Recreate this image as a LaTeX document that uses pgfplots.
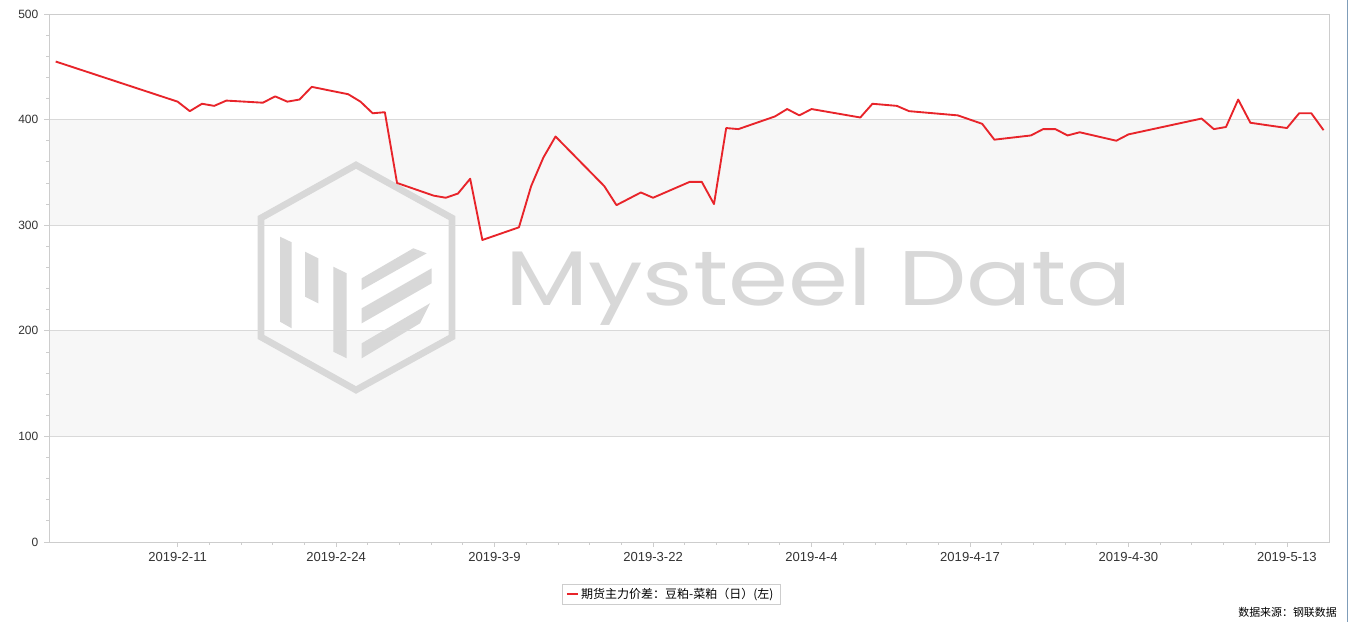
\documentclass[border=0pt]{standalone}
\usepackage{fontspec}
\setmainfont{Liberation Sans}
\newfontfamily\cjk{Noto Sans CJK SC}
\newfontfamily\wm{Poppins}
\usepackage{pgfplots}
\pgfplotsset{compat=1.18}
\definecolor{band}{HTML}{F7F7F7}
\definecolor{gridc}{HTML}{D9D9D9}
\definecolor{axc}{HTML}{CDCDCD}
\definecolor{wmc}{HTML}{D8D8D8}
\definecolor{lred}{HTML}{E8242A}
\definecolor{tickc}{HTML}{333333}
\definecolor{framec}{HTML}{7F9DB9}

\pgfplotstableread{
day value
0 455
10 417
11 408
12 415
13 413
14 418
17 416
18 422
19 417
20 419
21 431
24 424
25 417
26 406
27 407
28 340
31 328
32 326
33 330
34 344
35 286
38 298
39 337
40 364
41 384
45 337
46 319
48 331
49 326
52 341
53 341
54 320
55 392
56 391
59 403
60 410
61 404
62 410
66 402
67 415
69 413
70 408
74 404
76 396
77 381
80 385
81 391
82 391
83 385
84 388
87 380
88 386
94 401
95 391
96 393
97 419
98 397
101 392
102 406
103 406
104 390
}\spread

\begin{document}
\begin{tikzpicture}
\path[use as bounding box] (0,0) rectangle (1011pt,466.5pt);
\fill[white] (0,0) rectangle (1011pt,466.5pt);
\begin{scope}[x=0.75pt,y=-0.75pt,shift={(0,466.5pt)}]
  % alternating bands
  \fill[band] (49,119.6) rectangle (1329,225.2);
  \fill[band] (49,330.8) rectangle (1329,436.4);
  % watermark logo
  \draw[wmc, line width=5pt, line join=miter]
    (356,165) -- (452,218) -- (452,337) -- (356,390) -- (261,337) -- (261,218) -- cycle;
  \fill[wmc] (280,236.7) -- (291.7,242.3) -- (291.7,328.3) -- (280,321.7) -- cycle;
  \fill[wmc] (305,251.7) -- (318.3,258.3) -- (318.3,303.3) -- (305,296.7) -- cycle;
  \fill[wmc] (333.3,266.7) -- (346.7,273.3) -- (346.7,358.3) -- (333.3,351.7) -- cycle;
  \fill[wmc] (361.7,278.3) -- (413.3,248.3) -- (426.7,253.3) -- (361.7,290) -- cycle;
  \fill[wmc] (361.7,308.3) -- (431.7,268.3) -- (431.7,283.3) -- (361.7,323.3) -- cycle;
  \fill[wmc] (361.7,343.3) -- (430,303.3) -- (420,323.3) -- (361.7,358.3) -- cycle;
  \node[anchor=base west, inner sep=0pt, text=wmc, font=\wm\fontsize{58}{58}\selectfont, xscale=1.25] at (505,305) {Mysteel Data};
  % outer frame line on the right
  \draw[framec, line width=0.75pt] (1347,0) -- (1347,622);
  % source
  \node[anchor=east, inner sep=0pt, text=black, font=\cjk\fontsize{8.2}{9}\selectfont] at (1337,612) {数据来源：钢联数据};
\end{scope}

\begin{axis}[
  at={(36.75pt,60pt)}, anchor=south west,
  scale only axis, width=960pt, height=396pt,
  xmin=-0.55, xmax=104.45, ymin=0, ymax=500,
  xtick={10,23,36,49,62,75,88,101},
  xticklabels={2019-2-11,2019-2-24,2019-3-9,2019-3-22,2019-4-4,2019-4-17,2019-4-30,2019-5-13},
  minor x tick num=4,
  ytick={0,100,200,300,400,500},
  minor y tick num=4,
  xtick pos=bottom, ytick pos=left,
  ymajorgrids,
  major grid style={draw=gridc, line width=0.75pt},
  tick align=outside,
  major tick length=3.5pt, minor tick length=2pt,
  tick style={draw=axc, line width=0.6pt},
  axis line style={draw=axc, line width=0.75pt},
  /pgf/number format/assume math mode=true,
  ticklabel style={font=\fontsize{9}{10}\selectfont, text=tickc},
  xticklabel style={yshift=-1pt, font=\fontsize{9.8}{11}\selectfont},
  yticklabel style={xshift=-1pt},
  legend style={at={(0.486,-0.0985)}, anchor=center, draw=axc, fill=white,
    font=\cjk\fontsize{9}{10}\selectfont, inner xsep=3pt, inner ysep=1pt,
    text=black},
  legend image code/.code={\draw[#1] (0pt,0pt) -- (8pt,0pt);},
]
\addplot[lred, line width=1.4pt, line join=round, mark=none] table[x=day, y=value] {\spread};
\addlegendentry{期货主力价差：豆粕-菜粕（日）(左)}
\end{axis}
\end{tikzpicture}
\end{document}
